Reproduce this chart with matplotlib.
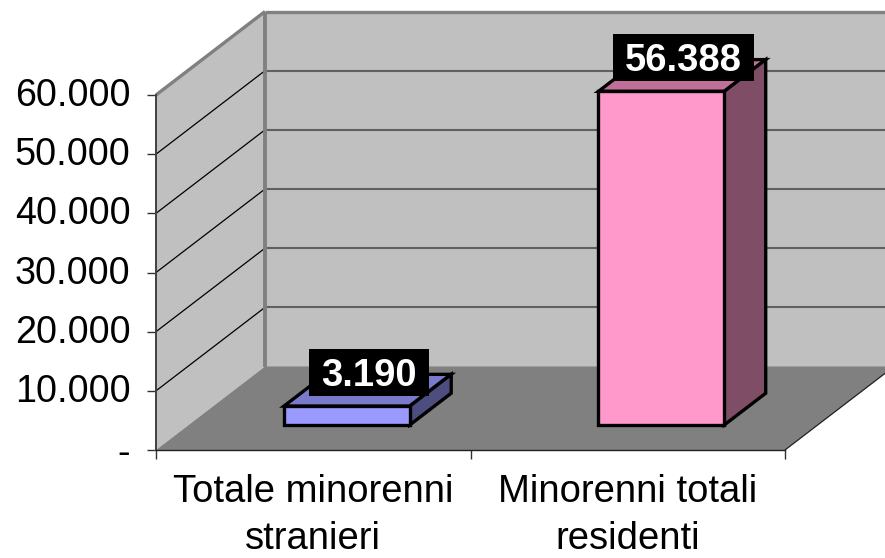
import matplotlib
matplotlib.use('Agg')
import matplotlib.pyplot as plt
from matplotlib.patches import Polygon, Rectangle
from matplotlib.transforms import offset_copy, ScaledTranslation

plt.rcParams['font.family'] = ['Liberation Sans', 'DejaVu Sans']

categories = ['Totale minorenni\nstranieri', 'Minorenni totali\nresidenti']
values = [3190, 56388]
value_labels = ['3.190', '56.388']
y_ticks = [0, 10000, 20000, 30000, 40000, 50000, 60000]
y_tick_labels = ['-', '10.000', '20.000', '30.000', '40.000', '50.000', '60.000']
front_colors = ['#9999FF', '#FF99CC']
top_colors = ['#7A7ACC', '#C06F99']
side_colors = ['#4D4D80', '#804D66']

W, H = 885, 558
fig = plt.figure(figsize=(W / 100, H / 100), dpi=100)
ax = fig.add_axes([156 / W, (H - 450) / H, (785 - 156) / W, (450 - 95) / H])
ax.set_xlim(0, 2)
ax.set_ylim(0, 60000)
ax.patch.set_visible(False)

# how far the back wall is moved from the front plane, in data units
DX = 109 / 314.5
DY = 83.5 / 355 * 60000
bar_w = 0.4
d0, d1 = 0.30, 0.68


def pr(x, v, d=0.0):
    return (x + d * DX, v + d * DY)


def poly(pts, fc, ec='none', lw=0, z=1):
    ax.add_patch(Polygon(pts, closed=True, facecolor=fc, edgecolor=ec, linewidth=lw,
                         joinstyle='miter', clip_on=False, zorder=z))


def line(a, b, color, lw, z=2):
    ax.plot([a[0], b[0]], [a[1], b[1]], color=color, linewidth=lw, clip_on=False,
            solid_capstyle='butt', zorder=z)


# walls and floor
poly([pr(0, 0), pr(0, 60000), pr(0, 60000, 1), pr(0, 0, 1)], '#C0C0C0')
poly([pr(0, 0, 1), pr(0, 60000, 1), pr(2, 60000, 1), pr(2, 0, 1)], '#C0C0C0')
poly([pr(0, 0), pr(0, 0, 1), pr(2, 0, 1), pr(2, 0)], '#808080')

for t in y_ticks[1:-1]:
    line(pr(0, t), pr(0, t, 1), 'black', 0.9)
    line(pr(0, t, 1), pr(2, t, 1), '#606060', 1.5)
line(pr(0, 60000), pr(0, 60000, 1), '#808080', 2.4)
line(pr(0, 60000, 1), pr(2, 60000, 1), '#808080', 2.4)
line(pr(0, 0, 1), pr(0, 60000, 1), '#808080', 2.8)
line(pr(2, 0), pr(2, 0, 1), '#202020', 0.9)

# bars
for i, v in enumerate(values):
    x0 = i + 0.5 - bar_w / 2 + 0.003
    x1 = i + 0.5 + bar_w / 2 + 0.003
    poly([pr(x0, v, d0), pr(x1, v, d0), pr(x1, v, d1), pr(x0, v, d1)], top_colors[i], 'black', 2.4, 3)
    poly([pr(x1, 0, d0), pr(x1, v, d0), pr(x1, v, d1), pr(x1, 0, d1)], side_colors[i], 'black', 2.4, 3)
    poly([pr(x0, 0, d0), pr(x1, 0, d0), pr(x1, v, d0), pr(x0, v, d0)], front_colors[i], 'black', 2.4, 4)

# value labels
fig.canvas.draw()
renderer = fig.canvas.get_renderer()
for i, v in enumerate(values):
    cx, cy = pr(i + 0.5, v, d0)
    trans = offset_copy(ax.transData, fig=fig, x=23 * 0.72, y=34 * 0.72, units='points')
    txt = ax.text(cx, cy, value_labels[i], color='white', fontsize=27.5, fontweight='bold',
                  ha='center', va='center_baseline', transform=trans, zorder=6, clip_on=False)
    ext = txt.get_window_extent(renderer)
    bw = (ext.width + 24) / 100 * 72
    base = offset_copy(ax.transData, fig=fig, x=(23 * 0.72 - bw / 2), y=(34 - 23.5) * 0.72, units='points')
    box = Rectangle((cx, cy), (ext.width + 24) / 629 * 2, 47 / 355 * 60000, transform=base,
                    facecolor='black', edgecolor='none', clip_on=False, zorder=5)
    ax.add_patch(box)

# axes
ax.set_yticks(y_ticks)
ax.set_yticklabels(y_tick_labels)
ax.set_xticks([0, 1, 2])
ax.set_xticklabels([])
ax.set_xticks([0.5, 1.5], minor=True)
ax.set_xticklabels(categories, minor=True, fontsize=27.5, linespacing=1.42)
ax.tick_params(axis='y', labelsize=27.2, length=6.5, width=1, color='#303030', pad=12)
ax.tick_params(axis='x', which='major', length=6.5, width=1, color='#303030')
ax.tick_params(axis='x', which='minor', length=0, pad=17)
# digits sit a little above their ticks, 3 px
shift = ScaledTranslation(0, 3 / 100, fig.dpi_scale_trans)
for lab in ax.get_yticklabels():
    if lab.get_text() != '-':
        lab.set_transform(lab.get_transform() + shift)
for s in ['top', 'right']:
    ax.spines[s].set_visible(False)
ax.spines['left'].set_linewidth(1.4)
ax.spines['left'].set_color('#404040')
ax.spines['bottom'].set_linewidth(1)
ax.spines['bottom'].set_color('#202020')
for s in ax.spines.values():
    s.set_zorder(2.5)

fig.savefig('out.png', dpi=100, facecolor='white')
